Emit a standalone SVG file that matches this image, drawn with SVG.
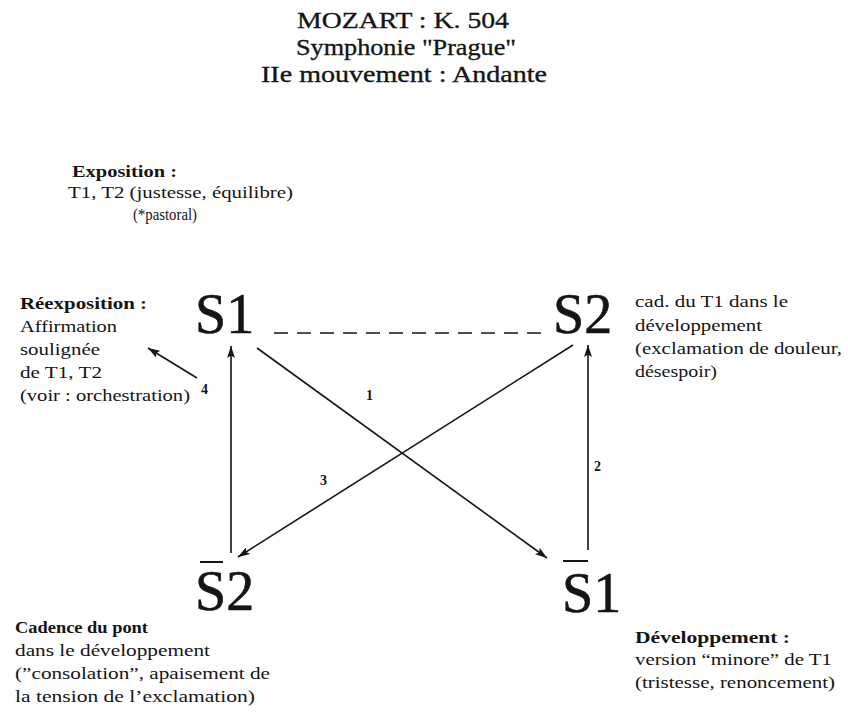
<svg xmlns="http://www.w3.org/2000/svg" width="848" height="727" viewBox="0 0 848 727">
<defs>
<style>
text{font-family:"Liberation Serif","Times New Roman",serif;fill:#151515}
.title{font-size:24px;text-anchor:middle;stroke:#151515;stroke-width:0.35}
.big{font-size:56px;stroke:#151515;stroke-width:0.6}
.t{font-size:17px}
.b{font-weight:bold}
.num{font-size:14px;font-weight:bold}
.edge{stroke:#151515;stroke-width:1.6;fill:none}
.dash{stroke:#151515;stroke-width:1.6;fill:none;stroke-dasharray:14 9}
.bar{stroke:#151515;stroke-width:2}
</style>
<marker id="ah" viewBox="0 0 12 8" refX="12" refY="4" markerWidth="13" markerHeight="8" markerUnits="userSpaceOnUse" orient="auto">
<path d="M0,0 L12,4 L0,8 L2.5,4 z" fill="#151515"/>
</marker>
</defs>
<rect width="848" height="727" fill="#ffffff"/>
<g id="title">
<text class="title" x="403" y="28" textLength="212" lengthAdjust="spacingAndGlyphs">MOZART : K. 504</text>
<text class="title" x="406" y="55" textLength="220" lengthAdjust="spacingAndGlyphs">Symphonie "Prague"</text>
<text class="title" x="404" y="82" textLength="286" lengthAdjust="spacingAndGlyphs">IIe mouvement : Andante</text>
</g>
<g id="exposition">
<text class="t b" x="72" y="177" textLength="105" lengthAdjust="spacingAndGlyphs">Exposition :</text>
<text class="t" x="68" y="198" textLength="225" lengthAdjust="spacingAndGlyphs">T1, T2 (justesse, équilibre)</text>
<text class="t" x="133" y="220" textLength="64" lengthAdjust="spacingAndGlyphs">(*pastoral)</text>
</g>
<g id="reexposition">
<text class="t b" x="20" y="309" textLength="127" lengthAdjust="spacingAndGlyphs">Réexposition :</text>
<text class="t" x="20" y="332" textLength="97" lengthAdjust="spacingAndGlyphs">Affirmation</text>
<text class="t" x="20" y="355" textLength="80" lengthAdjust="spacingAndGlyphs">soulignée</text>
<text class="t" x="20" y="378" textLength="82" lengthAdjust="spacingAndGlyphs">de T1, T2</text>
<text class="t" x="20" y="401" textLength="170" lengthAdjust="spacingAndGlyphs">(voir : orchestration)</text>
</g>
<g id="cadence-t1">
<text class="t" x="635" y="307" textLength="153" lengthAdjust="spacingAndGlyphs">cad. du T1 dans le</text>
<text class="t" x="635" y="331" textLength="127" lengthAdjust="spacingAndGlyphs">développement</text>
<text class="t" x="635" y="354" textLength="207" lengthAdjust="spacingAndGlyphs">(exclamation de douleur,</text>
<text class="t" x="635" y="377" textLength="82" lengthAdjust="spacingAndGlyphs">désespoir)</text>
</g>
<g id="cadence-pont">
<text class="t b" x="15" y="633" textLength="133" lengthAdjust="spacingAndGlyphs">Cadence du pont</text>
<text class="t" x="15" y="656" textLength="195" lengthAdjust="spacingAndGlyphs">dans le développement</text>
<text class="t" x="15" y="679" textLength="255" lengthAdjust="spacingAndGlyphs">(”consolation”, apaisement de</text>
<text class="t" x="15" y="702" textLength="240" lengthAdjust="spacingAndGlyphs">la tension de l’exclamation)</text>
</g>
<g id="developpement">
<text class="t b" x="635" y="643" textLength="155" lengthAdjust="spacingAndGlyphs">Développement :</text>
<text class="t" x="635" y="665" textLength="197" lengthAdjust="spacingAndGlyphs">version “minore” de T1</text>
<text class="t" x="635" y="688" textLength="200" lengthAdjust="spacingAndGlyphs">(tristesse, renoncement)</text>
</g>
<g id="node-S1">
<text class="big" x="195" y="333">S1</text>
</g>
<g id="node-S2">
<text class="big" x="553" y="333">S2</text>
</g>
<g id="node-S2bar">
<line class="bar" x1="200" y1="562" x2="223" y2="562"/>
<text class="big" x="195" y="610">S2</text>
</g>
<g id="node-S1bar">
<line class="bar" x1="563" y1="561" x2="588" y2="561"/>
<text class="big" x="562" y="612">S1</text>
</g>
<g id="connectors">
<line class="dash" x1="274" y1="333" x2="545" y2="333"/>
<line class="edge" x1="257" y1="348" x2="547" y2="558" marker-end="url(#ah)"/>
<line class="edge" x1="588" y1="550" x2="588" y2="345" marker-end="url(#ah)"/>
<line class="edge" x1="573" y1="345" x2="238" y2="557" marker-end="url(#ah)"/>
<line class="edge" x1="231" y1="553" x2="231" y2="346" marker-end="url(#ah)"/>
<line class="edge" x1="197" y1="378" x2="148" y2="348" marker-end="url(#ah)"/>
<text class="num" x="366" y="400">1</text>
<text class="num" x="594" y="471">2</text>
<text class="num" x="320" y="485">3</text>
<text class="num" x="201" y="394">4</text>
</g>
</svg>
